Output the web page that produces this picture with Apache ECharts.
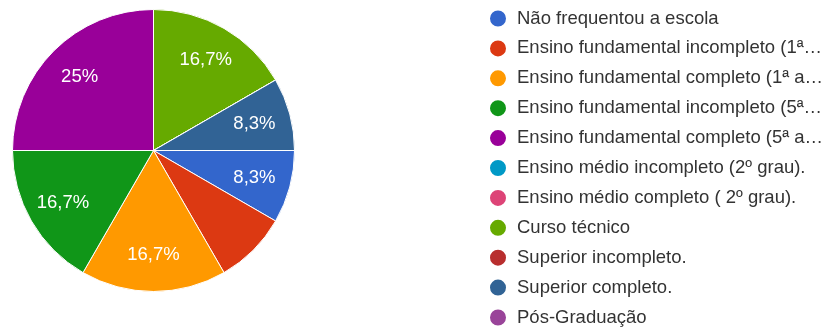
<!DOCTYPE html>
<html>
<head>
<meta charset="utf-8">
<script src="https://cdn.jsdelivr.net/npm/echarts@6/dist/echarts.min.js"></script>
<style>
  html, body { margin: 0; padding: 0; background: #fff; }
  #chart { width: 830px; height: 329px; }
</style>
</head>
<body>
<div id="chart"></div>
<script>
// Escolaridade: number of answers per option
const categories = [
  'Não frequentou a escola',
  'Ensino fundamental incompleto (1ª a 4ª série).',
  'Ensino fundamental completo (1ª a 4ª série).',
  'Ensino fundamental incompleto (5ª a 8ª série).',
  'Ensino fundamental completo (5ª a 8ª série).',
  'Ensino médio incompleto (2º grau).',
  'Ensino médio completo ( 2º grau).',
  'Curso técnico',
  'Superior incompleto.',
  'Superior completo.',
  'Pós-Graduação'
];
const counts = [1, 1, 2, 2, 3, 0, 0, 2, 0, 1, 0];
// slices whose percentage is not printed on the pie
const hiddenLabels = ['Ensino fundamental incompleto (1ª a 4ª série).'];
const palette = ['#3366cc', '#dc3912', '#ff9900', '#109618', '#990099',
                 '#0099c6', '#dd4477', '#66aa00', '#b82e2e', '#316395', '#994499'];

const total = counts.reduce((a, b) => a + b, 0);
const FONT = 'Arial, "Liberation Sans", sans-serif';

function pctText(v) {
  const p = Math.round(v / total * 1000) / 10;
  return (Number.isInteger(p) ? String(p) : p.toFixed(1)).replace('.', ',') + '%';
}

const center = [153.5, 150.5];

const chart = echarts.init(document.getElementById('chart'), null, { renderer: 'canvas' });
chart.setOption({
  animation: false,
  backgroundColor: '#ffffff',
  color: palette,
  legend: {
    orient: 'vertical',
    left: 488,
    top: 8.5,
    padding: 0,
    data: categories,
    icon: 'circle',
    itemWidth: 18,
    itemHeight: 18,
    itemGap: 9.9,
    selectedMode: false,
    textStyle: {
      fontFamily: FONT,
      fontSize: 18.5,
      color: '#333',
      lineHeight: 18,
      width: 313,
      overflow: 'truncate',
      ellipsis: '…',
      padding: [0, 0, 0, 5]
    }
  },
  series: [
    {
      type: 'pie',
      center: center,
      radius: 141,
      startAngle: 0,
      clockwise: true,
      avoidLabelOverlap: false,
      label: { show: false },
      labelLine: { show: false },
      emphasis: { disabled: true },
      itemStyle: { borderColor: '#ffffff', borderWidth: 1 },
      data: categories.map((name, i) => ({
        name: name,
        value: counts[i],
        itemStyle: { color: palette[i] }
      }))
    },
    {
      // label ring: positions the percentage texts about 70% out from the center
      type: 'pie',
      center: center,
      radius: [62, 141],
      startAngle: 0,
      clockwise: true,
      silent: true,
      legendHoverLink: false,
      avoidLabelOverlap: false,
      itemStyle: { color: 'rgba(0,0,0,0)', borderWidth: 0 },
      labelLine: { show: false },
      emphasis: { disabled: true },
      label: {
        show: true,
        position: 'inside',
        fontFamily: FONT,
        fontSize: 18.5,
        color: '#ffffff',
        formatter: p => pctText(p.value)
      },
      data: categories.map((name, i) => ({
        name: name,
        value: counts[i],
        label: { show: counts[i] > 0 && hiddenLabels.indexOf(name) < 0 }
      }))
    }
  ]
});
</script>
</body>
</html>
